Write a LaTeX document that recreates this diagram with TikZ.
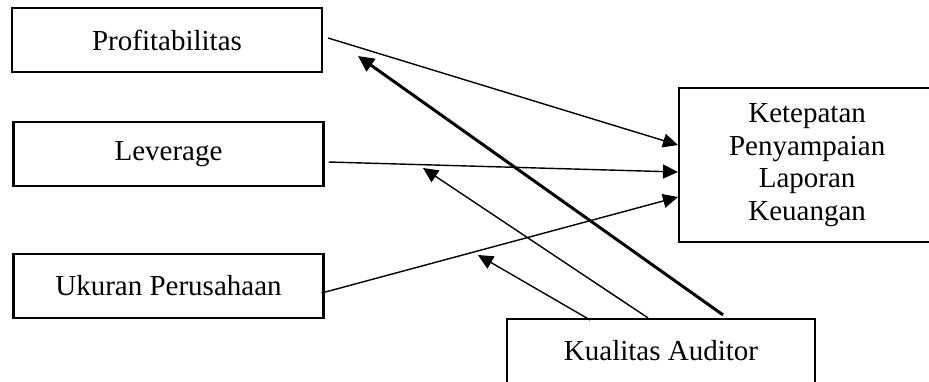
\documentclass[tikz,border=0pt]{standalone}
\usepackage{fontspec}
\setmainfont{Liberation Serif}
\usepackage{tikz}
\usetikzlibrary{arrows.meta, positioning}

\tikzset{
    varbox/.style={draw, line width=1.1pt, minimum width=155pt, minimum height=32pt, inner sep=0pt, align=center},
    link/.style={line width=0.7pt, -{Triangle[length=7.5pt, width=7pt]}},
    thicklink/.style={line width=1.5pt, -{Triangle[length=8pt, width=7.5pt]}}
}

\begin{document}
\begin{tikzpicture}[x=0.5pt, y=-0.5pt, font=\fontsize{14.5pt}{16.3pt}\selectfont]
                        \useasboundingbox (0, 0) rectangle (929, 381);

                        \node[varbox] (prof) at (167, 40) {Profitabilitas};
                        \node[varbox] (lev) at (168.5, 154) {Leverage};
                        \node[varbox] (ukr) at (168.5, 286) {Ukuran Perusahaan};
                        \node[varbox, minimum width=128pt, minimum height=77pt, anchor=west] (ket) at (678, 165) {Ketepatan\\Penyampaian\\Laporan\\Keuangan};
                        \node[varbox, minimum width=154pt] (kual) at (661, 351) {Kualitas Auditor};

                        \coordinate (tipa) at (358, 56);
                        \coordinate (tipb) at (423, 168);
                        \coordinate (tipc) at (478, 255);

                        \draw[link] ([xshift=2.5pt, yshift=1pt]prof.east) -- ([yshift=10pt]ket.west);
                        \draw[link] ([xshift=2pt, yshift=-4pt]lev.east) -- ([yshift=-3.5pt]ket.west);
                        \draw[link] ([xshift=-1.5pt, yshift=-3.5pt]ukr.east) -- ([yshift=-16pt]ket.west);

                        \draw[thicklink] ([xshift=31pt, yshift=1.5pt]kual.north) -- (tipa);
                        \draw[link] ([xshift=-6.5pt]kual.north) -- (tipb);
                        \draw[link] ([xshift=-35.5pt, yshift=-1pt]kual.north) -- (tipc);
                    \end{tikzpicture}
\end{document}
